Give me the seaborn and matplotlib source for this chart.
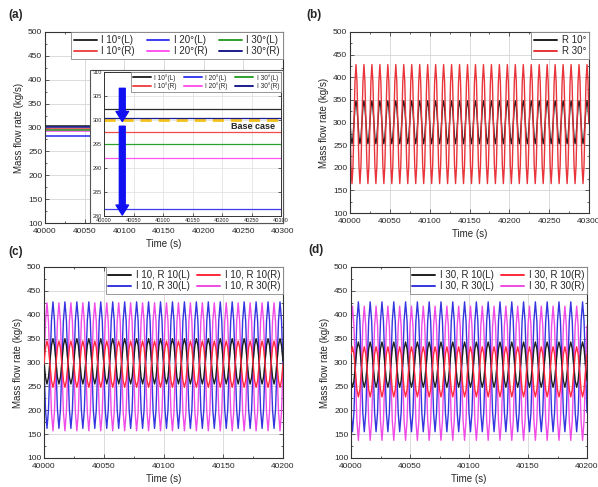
import numpy as np
import matplotlib
matplotlib.use("Agg")
import matplotlib.pyplot as plt
from matplotlib.ticker import MultipleLocator
from matplotlib.patches import Rectangle
import seaborn as sns

sns.set_theme(style="ticks")
plt.rcParams['font.family'] = ['Liberation Sans', 'DejaVu Sans']

# ---- data ----
# (a) steady mass flow rate, inclination cases
a_labels = ["I 10°(L)", "I 10°(R)", "I 20°(L)", "I 20°(R)", "I 30°(L)", "I 30°(R)"]
a_values = [302.2, 297.5, 281.5, 292.0, 295.0, 300.4]
a_colors = ["#2b2b2b", "#f04a4a", "#3b3bf0", "#ff55f0", "#2ea02e", "#1c1c8c"]
a_time = [40000, 40300]
base_case = 300.0

# oscillating cases: one 10 s cycle sampled every 1.25 s, starting at t = 40000 s
step = 1.25
b_labels = ["R 10°", "R 30°"]
b_cycles = [
    [300, 267, 253, 267, 300, 334, 348, 334],
    [297, 204, 165, 204, 297, 390, 428, 390],
]
b_colors = ["#1e1e1e", "#e8343a"]

c_labels = ["I 10, R 10(L)", "I 10, R 30(L)", "I 10, R 10(R)", "I 10, R 30(R)"]
c_cycles = [
    [303, 269, 255, 269, 303, 336, 350, 336],
    [295, 201, 162, 201, 295, 388, 427, 388],
    [297, 331, 345, 331, 297, 262, 248, 262],
    [291, 386, 425, 386, 291, 196, 157, 196],
]

d_labels = ["I 30, R 10(L)", "I 30, R 30(L)", "I 30, R 10(R)", "I 30, R 30(R)"]
d_cycles = [
    [262, 248, 262, 296, 329, 343, 329, 296],
    [195, 155, 195, 291, 387, 427, 387, 291],
    [318, 333, 318, 281, 243, 228, 243, 281],
    [377, 418, 377, 278, 178, 137, 178, 278],
]
cd_colors = ["#1e1e1e", "#3535e0", "#ff2a3a", "#f04be6"]
cd_z = [3, 2, 3, 2]


def series(cycle, t_end):
    t = np.arange(40000, t_end + 0.01, step)
    reps = len(t) // len(cycle) + 1
    return t, np.tile(cycle, reps)[:len(t)]


W, H = 598, 487


def box(l, r, t, b):
    return [l / W, 1 - b / H, (r - l) / W, (b - t) / H]


fig = plt.figure(figsize=(W / 100, H / 100), dpi=100)
ax_a = fig.add_axes(box(45, 283, 32, 223))
ax_b = fig.add_axes(box(350, 589, 32, 213))
ax_c = fig.add_axes(box(44, 283, 267, 458))
ax_d = fig.add_axes(box(351, 587, 267, 458))


def style(ax, xmax, fs=6):
    ax.set_xlim(40000, xmax)
    ax.set_ylim(100, 500)
    ax.xaxis.set_major_locator(MultipleLocator(50))
    ax.xaxis.set_minor_locator(MultipleLocator(25))
    ax.yaxis.set_major_locator(MultipleLocator(50))
    ax.yaxis.set_minor_locator(MultipleLocator(25))
    ax.tick_params(which="both", direction="in", top=True, right=True,
                   width=0.6, color="#444444", labelsize=fs, pad=2)
    ax.tick_params(axis="x", pad=3.5)
    ax.tick_params(which="major", length=3)
    ax.tick_params(which="minor", length=1.5)
    ax.grid(True, which="major", color="#d6d6d6", lw=0.6)
    ax.set_axisbelow(True)
    for s in ax.spines.values():
        s.set_color("#333333")
        s.set_linewidth(0.8)
    ax.set_xlabel("Time (s)", fontsize=7, labelpad=3)
    ax.set_ylabel("Mass flow rate (kg/s)", fontsize=7, labelpad=3)


def legend(ax, ncol, fs=7, hl=2.3, cs=1.2):
    leg = ax.legend(ncol=ncol, loc="upper right", fontsize=fs, frameon=True,
                    fancybox=False, borderaxespad=0, handlelength=hl,
                    columnspacing=cs, handletextpad=0.5, borderpad=0.3,
                    labelspacing=0.15)
    leg.get_frame().set_edgecolor("#888888")
    leg.get_frame().set_linewidth(0.6)
    leg.get_frame().set_alpha(1)
    for ln in leg.get_lines():
        ln.set_linewidth(1.4)
    return leg


# ---- (a) ----
for lab, v, col in zip(a_labels, a_values, a_colors):
    sns.lineplot(x=a_time, y=[v, v], ax=ax_a, color=col, lw=1.2, label=lab)
style(ax_a, 40300)
legend(ax_a, 3)
ax_a.add_patch(Rectangle((90 / W, 1 - 223 / H), 193 / W, 153 / H,
                         transform=fig.transFigure, facecolor="white",
                         edgecolor="#555555", lw=0.8, zorder=4, clip_on=False))

ins = fig.add_axes(box(104, 281, 72, 216))
for lab, v, col in zip(a_labels, a_values, a_colors):
    sns.lineplot(x=a_time, y=[v, v], ax=ins, color=col, lw=0.9, label=lab)
ins.plot(a_time, [base_case, base_case], color="#f2c21b", lw=2.0,
         dashes=(4, 2.5), zorder=1.5)
ins.set_xlim(40000, 40300)
ins.set_ylim(280, 310)
ins.xaxis.set_major_locator(MultipleLocator(50))
ins.yaxis.set_major_locator(MultipleLocator(5))
ins.tick_params(which="both", direction="in", top=True, right=True,
                length=2, width=0.5, labelsize=4, pad=1.5)
ins.grid(True, color="#dddddd", lw=0.5)
ins.set_axisbelow(True)
for s in ins.spines.values():
    s.set_color("#333333")
    s.set_linewidth(0.7)
ins.set_xlabel("")
ins.set_ylabel("")
legend(ins, 3, fs=4.7, hl=2.8, cs=1.1)
arrow = dict(arrowstyle="simple,head_length=0.6,head_width=0.75,tail_width=0.35",
             color="#1010f0", shrinkA=0, shrinkB=0)
ins.annotate("", xy=(40031, 299.7), xytext=(40031, 306.6), arrowprops=arrow,
             annotation_clip=False, zorder=6)
ins.annotate("", xy=(40031, 280.2), xytext=(40031, 298.7), arrowprops=arrow,
             annotation_clip=False, zorder=6)
ins.text(40290, 298.7, "Base case", fontsize=6.5, fontweight="bold",
         ha="right", va="center", color="#222222")

# ---- (b) ----
for lab, cyc, col in zip(b_labels, b_cycles, b_colors):
    t, y = series(cyc, 40300)
    sns.lineplot(x=t, y=y, ax=ax_b, color=col, lw=1.0, label=lab)
style(ax_b, 40300)
legend(ax_b, 1)

# ---- (c), (d) ----
for ax, labels, cycles in [(ax_c, c_labels, c_cycles), (ax_d, d_labels, d_cycles)]:
    for lab, cyc, col, z in zip(labels, cycles, cd_colors, cd_z):
        t, y = series(cyc, 40200)
        sns.lineplot(x=t, y=y, ax=ax, color=col, lw=1.0, label=lab, zorder=z)
    style(ax, 40200)
    legend(ax, 2, cs=0.8)

for txt, (px, py) in zip(["(a)", "(b)", "(c)", "(d)"],
                         [(8, 15), (306, 15), (8, 252), (308, 250)]):
    fig.text(px / W, 1 - py / H, txt, fontsize=8.5, fontweight="bold",
             ha="left", va="center")

fig.savefig("out.png", dpi=100)
